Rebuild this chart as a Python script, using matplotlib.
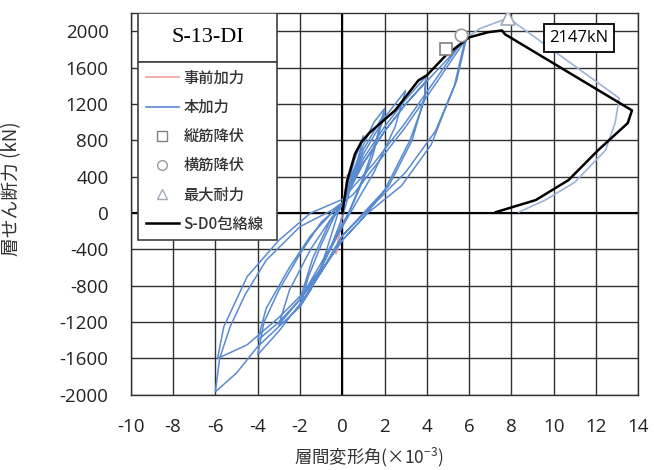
import matplotlib
matplotlib.use("Agg")
import matplotlib.pyplot as plt
from matplotlib.lines import Line2D
from matplotlib.patches import Rectangle

plt.rcParams['font.family'] = ['Open Sans', 'Noto Sans CJK JP', 'DejaVu Sans']
plt.rcParams['axes.unicode_minus'] = False

# pre-loading (事前加力)
pre_x = [0, 0.15, 0.25, 0.1, -0.1, -0.25, -0.3, -0.1, 0]
pre_y = [0, 250, 420, 150, -150, -420, -450, -150, 0]

# main loading (本加力)
main_x = [0, 0.3, 0.6, 1.0, 0.7, 0.3, 0, -0.5, -1.0, -0.6, -0.2, 0,
          0.5, 1.0, 1.5, 2.0, 1.6, 1.0, 0.3, -0.3, -1.0, -1.5, -2.0, -1.6, -1.0, -0.4, 0,
          1.0, 2.0, 1.4, 0.6, 0, -1.0, -2.0, -1.4, -0.6, 0,
          1.0, 2.0, 3.0, 2.5, 1.5, 0.5, 0, -1.0, -2.0, -3.0, -2.5, -1.5, -0.5, 0,
          1.0, 2.0, 3.0, 3.95, 3.9, 3.3, 2.2, 1.0, 0, -1.0, -2.0, -3.0, -4.0, -3.7, -3.0, -2.0, -1.0, 0,
          1.0, 2.0, 3.0, 3.95, 3.9, 3.2, 2.0, 1.0, 0, -1.0, -2.0, -3.0, -4.0, -3.6, -2.5, -1.5, -0.5, 0,
          1.0, 2.0, 3.0, 4.0, 5.0, 5.9, 5.4, 4.4, 3.0, 1.5, 0, -1.0, -2.0, -3.0, -4.0, -5.0, -6.0,
          -5.8, -5.3, -4.6, -3.6, -2.0, -0.5, 0.5,
          1.5, 3.0, 4.5, 5.8, 5.3, 4.2, 2.8, 1.2, 0, -1.5, -3.0, -4.5, -5.9, -5.6, -4.5, -3.0, -1.5, 0,
          1.5, 3.0, 4.5, 5.7]
main_y = [0, 350, 600, 850, 550, 200, -50, -350, -600, -300, 0, 100,
          450, 750, 1000, 1150, 800, 400, 0, -250, -600, -850, -1030, -700, -350, -50, 100,
          700, 1100, 600, 150, -150, -600, -950, -500, -100, 100,
          650, 1050, 1350, 950, 450, 50, -150, -550, -950, -1230, -850, -400, -50, 100,
          600, 950, 1250, 1500, 1280, 800, 300, 0, -250, -650, -1000, -1300, -1560, -1200, -850, -450, -100, 100,
          550, 900, 1200, 1450, 1250, 800, 250, -50, -300, -650, -950, -1200, -1400, -1050, -600, -250, 0, 100,
          550, 900, 1200, 1450, 1700, 1950, 1450, 900, 450, 100, -250, -650, -1030, -1250, -1470, -1760, -1967,
          -1600, -1250, -900, -520, -150, 30, 200,
          500, 950, 1450, 1900, 1400, 750, 300, 0, -300, -800, -1150, -1450, -1600, -1250, -700, -300, 0, 150,
          550, 1000, 1500, 1900]

# final push (本加力, last cycle)
last_x = [5.7, 6.5, 7.85, 13.1, 12.9, 12.45, 11.0, 9.6, 8.35]
last_y = [1900, 2030, 2147, 1264, 990, 692, 340, 143, 10]

# S-D0 envelope (包絡線)
env_x = [0, 0.24, 0.6, 0.9, 1.27, 2.5, 3.6, 4.0, 4.9, 6.0, 6.9, 7.55, 7.7, 13.7, 13.5, 12.1, 10.7, 9.15, 7.26]
env_y = [0, 363, 650, 780, 880, 1130, 1460, 1516, 1736, 1934, 1990, 2010, 1967, 1130, 990, 692, 363, 143, 10]

# events
bar_yield = (4.9, 1810)    # 縦筋降伏
hoop_yield = (5.6, 1960)   # 横筋降伏
max_load = (7.85, 2147)    # 最大耐力

xticks = list(range(-10, 15, 2))
yticks = list(range(-2000, 2001, 400))

fig = plt.figure(figsize=(6.54, 4.70), dpi=100)
ax = fig.add_axes([0.200, 0.160, 0.776, 0.812])

blue = '#5a8ad0'
ax.plot(pre_x, pre_y, color='#f2a0a0', lw=1.2, zorder=3)
ax.plot(main_x, main_y, color=blue, lw=1.1, zorder=3)
ax.plot(last_x, last_y, color='#9fb3d8', lw=1.2, zorder=3)
ax.plot(env_x, env_y, color='black', lw=1.8, zorder=4)

ax.plot(*bar_yield, marker='s', ms=9, mfc='white', mec='#808080', mew=1.2, zorder=5)
ax.plot(*hoop_yield, marker='o', ms=9, mfc='white', mec='#9a9a9a', mew=1.2, zorder=5)
ax.plot(*max_load, marker='^', ms=10, mfc='white', mec='#a0a8b8', mew=1.2, zorder=5)

ax.set_xlim(-10, 14)
ax.set_ylim(-2000, 2200)
ax.set_xticks(xticks)
ax.set_yticks(yticks)
ax.tick_params(length=0, labelsize=13.5, labelcolor='#222222')
ax.tick_params(axis='y', pad=16)
ax.tick_params(axis='x', pad=17)
ax.grid(True, color='#303030', lw=1.0)
ax.axhline(0, color='black', lw=1.5, zorder=2)
ax.axvline(0, color='black', lw=1.5, zorder=2)
for s in ax.spines.values():
    s.set_color('#303030')
    s.set_linewidth(1.0)

ax.set_xlabel('層間変形角(×10$^{\\mathregular{-3}}$)', fontsize=12.5, color='#333333',
              family=['Noto Sans CJK JP', 'DejaVu Sans'])
ax.xaxis.set_label_coords(0.47, -0.135)
ax.set_ylabel('層せん断力 (kN)', fontsize=13.5, color='#333333',
              family=['Noto Sans CJK JP', 'DejaVu Sans'])
ax.yaxis.set_label_coords(-0.215, 0.54)

ax.text(11.2, 1923, '2147kN', fontsize=12, ha='center', va='center', zorder=6,
        bbox=dict(boxstyle='square,pad=0.35', fc='white', ec='black', lw=1.3))

# title box above the legend
ax.add_patch(Rectangle((0.014, 0.872), 0.274, 0.128, transform=ax.transAxes,
                       fc='white', ec='#404040', lw=1.2, zorder=7))
ax.text(0.151, 0.936, 'S-13-DI', transform=ax.transAxes, ha='center', va='center',
        fontsize=16, family='Liberation Serif', zorder=8)

handles = [Line2D([], [], color='#f2a0a0', lw=1.2),
           Line2D([], [], color=blue, lw=1.2),
           Line2D([], [], ls='none', marker='s', ms=7, mfc='white', mec='#808080'),
           Line2D([], [], ls='none', marker='o', ms=7, mfc='white', mec='#9a9a9a'),
           Line2D([], [], ls='none', marker='^', ms=7, mfc='white', mec='#a0a8b8'),
           Line2D([], [], color='black', lw=1.8)]
labels = ['事前加力', '本加力', '縦筋降伏', '横筋降伏', '最大耐力', 'S-D0包絡線']
leg = ax.legend(handles, labels, loc='upper left', bbox_to_anchor=(0.014, 0.406, 0.274, 0.466),
                mode='expand', borderaxespad=0, fancybox=False, edgecolor='#404040',
                framealpha=1, handlelength=2.2, handletextpad=0.3, labelspacing=0.8,
                borderpad=0.5,
                prop={'family': ['Noto Sans CJK JP', 'DejaVu Sans'], 'size': 11, 'weight': 'medium'})
leg.get_frame().set_linewidth(1.2)
leg.set_zorder(7)
for t in leg.get_texts():
    t.set_color('#333333')

fig.savefig('out.png', dpi=100)
